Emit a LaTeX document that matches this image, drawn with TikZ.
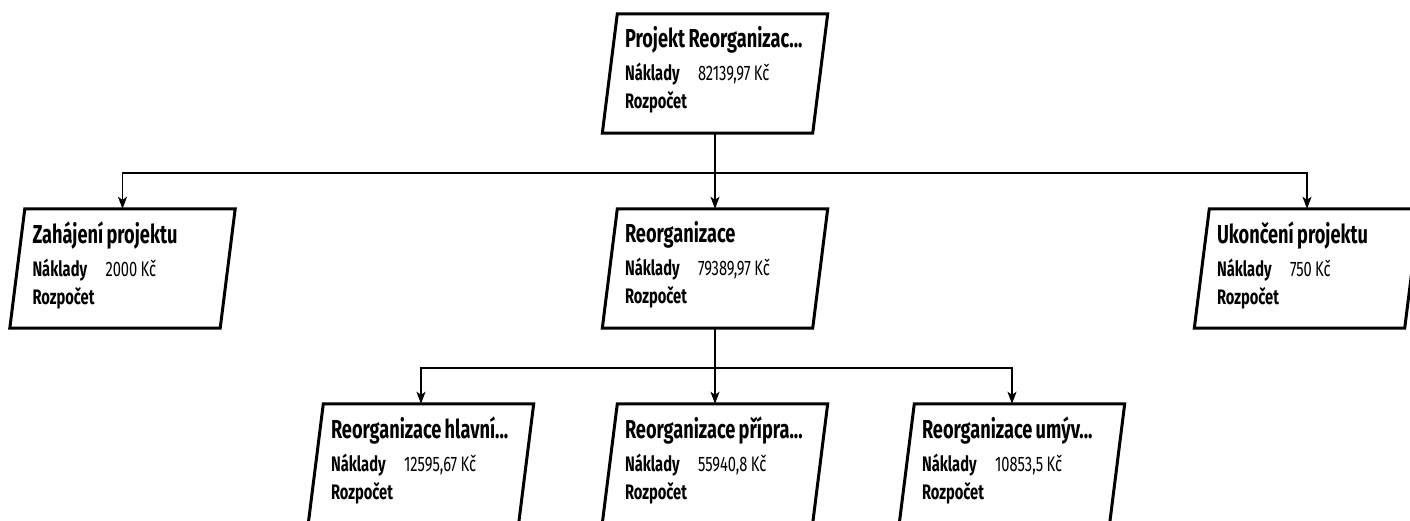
\documentclass[tikz,border=0pt]{standalone}
\usepackage{fontspec}
\setmainfont{Fira Sans}[FakeStretch=0.7]
\usepackage{tikz}
\usetikzlibrary{arrows.meta}
\definecolor{wbsline}{HTML}{000000}

\newcommand{\wbslabel}[2]{%
	{\fontsize{26}{33}\selectfont\bfseries #1\par}%
	{\fontsize{21}{33}\selectfont\makebox[73pt][l]{\bfseries Náklady}#2\par}%
	{\fontsize{21}{28}\selectfont\bfseries Rozpočet\rule[-11.5pt]{0pt}{0pt}\par}}

\tikzset{
	wbs/.style={minimum width=210pt, minimum height=119pt, inner sep=0pt, text width=180pt, align=left},
	boxline/.style={color=wbsline, line width=3pt, line join=miter},
	link/.style={color=wbsline, line width=1.5pt, -{Stealth[length=12pt, width=9pt, inset=3pt]}}
}

\begin{document}
\begin{tikzpicture}[x=1pt, y=1pt]
		\useasboundingbox (0,0) rectangle (1410,521);
		% boxes
		\node[wbs] (proj)  at (715,447.5)  {\wbslabel{Projekt Reorganizac...}{82139,97 Kč}};
		\node[wbs] (zah)   at (122.5,252.5) {\wbslabel{Zahájení projektu}{2000 Kč}};
		\node[wbs] (reorg) at (715,252.5)  {\wbslabel{Reorganizace}{79389,97 Kč}};
		\node[wbs] (ukon)  at (1307,252.5) {\wbslabel{Ukončení projektu}{750 Kč}};
		\node[wbs] (hlav)  at (421,57.5)   {\wbslabel{Reorganizace hlavní...}{12595,67 Kč}};
		\node[wbs] (prip)  at (715,57.5)   {\wbslabel{Reorganizace přípra...}{55940,8 Kč}};
		\node[wbs] (umyv)  at (1012,57.5)  {\wbslabel{Reorganizace umýv...}{10853,5 Kč}};
		\foreach \n in {proj,zah,reorg,ukon,hlav,prip,umyv}
			\draw[boxline] ([xshift=7.5pt]\n.north west) -- ([xshift=7.5pt]\n.north east)
				-- ([xshift=-7.5pt]\n.south east) -- ([xshift=-7.5pt]\n.south west) -- cycle;
		% connectors
		\coordinate (split1) at (715,348);
		\coordinate (split2) at (715,153);
		\draw[color=wbsline, line width=1.5pt] (proj.south) -- (split1);
		\draw[color=wbsline, line width=1.5pt] (reorg.south) -- (split2);
		\foreach \c in {zah,reorg,ukon}
			\draw[link] (split1) -| (\c.north);
		\foreach \c in {hlav,prip,umyv}
			\draw[link] (split2) -| (\c.north);
	\end{tikzpicture}
\end{document}
